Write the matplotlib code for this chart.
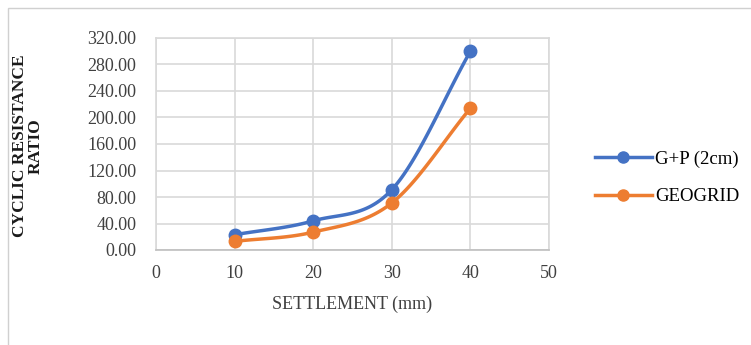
import matplotlib.pyplot as plt
import numpy as np
from matplotlib.patches import Rectangle

# settlement (mm) vs cyclic resistance ratio
settlement = [10, 20, 30, 40]
gp_2cm = [23.0, 44.0, 91.0, 300.0]
geogrid = [13.0, 27.0, 71.0, 214.0]

x_ticks = [0, 10, 20, 30, 40, 50]
y_ticks = [0, 40, 80, 120, 160, 200, 240, 280, 320]


def smooth(x, y, n=40):
    # catmull-rom style curve like excel's smoothed line
    x = np.asarray(x, float)
    y = np.asarray(y, float)
    px = np.concatenate([[2 * x[0] - x[1]], x, [2 * x[-1] - x[-2]]])
    py = np.concatenate([[2 * y[0] - y[1]], y, [2 * y[-1] - y[-2]]])
    xs, ys = [], []
    t = np.linspace(0, 1, n)
    for i in range(1, len(px) - 2):
        for p, out in ((px, xs), (py, ys)):
            p0, p1, p2, p3 = p[i - 1], p[i], p[i + 1], p[i + 2]
            m1 = (p2 - p0) / 6
            m2 = (p3 - p1) / 6
            b = ((1 - t) ** 3 * p1 + 3 * (1 - t) ** 2 * t * (p1 + m1)
                 + 3 * (1 - t) * t ** 2 * (p2 - m2) + t ** 3 * p2)
            out.extend(b)
    return np.array(xs), np.array(ys)


plt.rcParams['font.family'] = ['Liberation Serif', 'DejaVu Serif']

fig = plt.figure(figsize=(7.51, 3.45), dpi=100)
fig.patches.append(Rectangle((8 / 751, -0.1), 1.0, 1 - 8 / 345 + 0.1,
                             transform=fig.transFigure, fill=False,
                             edgecolor='#d0d0d0', linewidth=1))
ax = fig.add_axes([156 / 751, 1 - 250 / 345, 393 / 751, 212 / 345])

blue = '#4472C4'
orange = '#ED7D31'
for ys, col, lab in ((gp_2cm, blue, 'G+P (2cm)'), (geogrid, orange, 'GEOGRID')):
    sx, sy = smooth(settlement, ys)
    ax.plot(sx, sy, color=col, lw=2.5, zorder=3)
    ax.plot(settlement, ys, 'o', color=col, ms=9, zorder=4)
    ax.plot([], [], '-o', color=col, lw=2.5, ms=8, label=lab)

ax.set_xlim(0, 50)
ax.set_ylim(0, 320)
ax.set_xticks(x_ticks)
ax.set_yticks(y_ticks)
ax.set_yticklabels(['%.2f' % v for v in y_ticks])
ax.tick_params(length=0, labelsize=13, colors='#404040')
ax.tick_params(axis='y', pad=14)
ax.tick_params(axis='x', pad=11)
ax.grid(True, color='#d9d9d9', lw=1.2)
ax.set_axisbelow(True)
for s in ax.spines.values():
    s.set_color('#d9d9d9')
    s.set_linewidth(1.2)
ax.spines['bottom'].set_color('#bfbfbf')

ax.set_xlabel('SETTLEMENT (mm)', fontsize=13, color='#404040', labelpad=10)
ax.set_ylabel('CYCLIC RESISTANCE\nRATIO', fontsize=12.5, fontweight='bold',
              color='#1a1a1a', linespacing=1.05, va='center')
ax.yaxis.set_label_coords(-0.326, 0.49)

ax.legend(loc='center left', bbox_to_anchor=(1.075, 0.34), frameon=False,
          fontsize=13.5, handlelength=3.0, labelspacing=1.1, handletextpad=0.2)

fig.savefig('out.png', dpi=100)
